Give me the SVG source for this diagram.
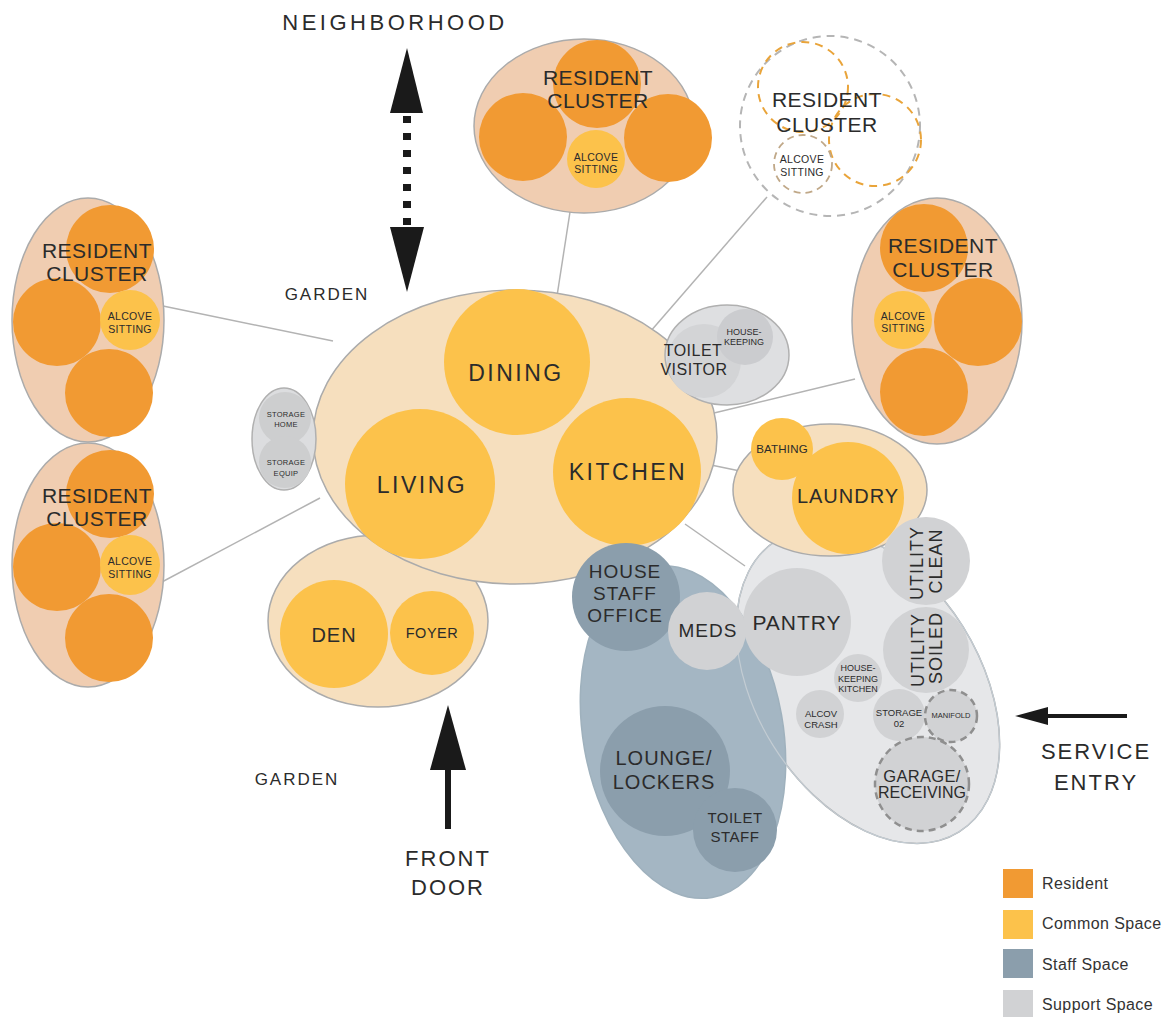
<svg xmlns="http://www.w3.org/2000/svg" width="1176" height="1017" viewBox="0 0 1176 1017">
<style>
text{font-family:"Liberation Sans",Arial,Helvetica,sans-serif;fill:#2b2b2b;text-anchor:middle}
.grp{stroke:#ababab;stroke-width:1.5}
.clus{fill:#f0cdb1}
.common-g{fill:#f6dfbe}
.res{fill:#f19a33}
.com{fill:#fcc24b}
.sup-g{fill:#e6e7e9}
.sup{fill:#d1d2d4}
.staff-g{fill:#a4b6c3}
.staff{fill:#8b9eac}
.conn{stroke:#b3b3b3;stroke-width:1.5;fill:none}
.dashg{fill:none;stroke:#b5b5b5;stroke-width:2;stroke-dasharray:8 6}
.dasho{fill:none;stroke:#e9a43a;stroke-width:2;stroke-dasharray:8 6}
.dashs{stroke:#8f8f8f;stroke-width:2.5;stroke-dasharray:7 5}
.big{font-size:23px;letter-spacing:2.5px}
.rc{font-size:21px;letter-spacing:0.5px}
.alc{font-size:10.5px;letter-spacing:0.3px}
.lbl{font-size:22px;letter-spacing:2px}
.leg{font-size:16px;text-anchor:start;letter-spacing:0.4px;fill:#333}
</style>

<g id="connectors">
<line class="conn" x1="570" y1="212" x2="557" y2="296"/>
<line class="conn" x1="767" y1="197" x2="650" y2="332"/>
<line class="conn" x1="163" y1="306" x2="333" y2="341"/>
<line class="conn" x1="160" y1="583" x2="320" y2="498"/>
<line class="conn" x1="855" y1="379" x2="714" y2="413"/>
<line class="conn" x1="711" y1="465" x2="740" y2="471"/>
<line class="conn" x1="685" y1="524" x2="745" y2="566"/>
</g>

<g id="arrows">
<polygon points="407,48 423,113 390,113" fill="#1a1a1a"/>
<line x1="407" y1="116" x2="407" y2="227" stroke="#1a1a1a" stroke-width="8" stroke-dasharray="7 10"/>
<polygon points="390,227 424,227 407,292" fill="#1a1a1a"/>
<polygon points="448,705 466,770 430,770" fill="#1a1a1a"/>
<rect x="445" y="769" width="6" height="60" fill="#1a1a1a"/>
<polygon points="1015,716 1048,707 1048,725" fill="#1a1a1a"/>
<rect x="1046" y="714" width="81" height="4" fill="#1a1a1a"/>
</g>

<g id="cluster-left-1">
<ellipse class="clus grp" cx="88" cy="320" rx="76" ry="122"/>
<circle class="res" cx="110" cy="249" r="44"/>
<circle class="res" cx="57" cy="322" r="44"/>
<circle class="res" cx="109" cy="393" r="44"/>
<circle class="com" cx="130" cy="320" r="30"/>
<text class="rc" x="97" y="258">RESIDENT</text>
<text class="rc" x="97" y="281">CLUSTER</text>
<text class="alc" x="130" y="320">ALCOVE</text>
<text class="alc" x="130" y="333">SITTING</text>
</g>

<g id="cluster-left-2">
<ellipse class="clus grp" cx="88" cy="565" rx="76" ry="122"/>
<circle class="res" cx="110" cy="494" r="44"/>
<circle class="res" cx="57" cy="567" r="44"/>
<circle class="res" cx="109" cy="638" r="44"/>
<circle class="com" cx="130" cy="565" r="30"/>
<text class="rc" x="97" y="503">RESIDENT</text>
<text class="rc" x="97" y="526">CLUSTER</text>
<text class="alc" x="130" y="565">ALCOVE</text>
<text class="alc" x="130" y="578">SITTING</text>
</g>

<g id="cluster-top">
<ellipse class="clus grp" cx="584" cy="126" rx="110" ry="87"/>
<circle class="res" cx="597" cy="84" r="44"/>
<circle class="res" cx="523" cy="137" r="44"/>
<circle class="res" cx="668" cy="138" r="44"/>
<circle class="com" cx="596" cy="159" r="29"/>
<text class="rc" x="598" y="85">RESIDENT</text>
<text class="rc" x="598" y="108">CLUSTER</text>
<text class="alc" x="596" y="161">ALCOVE</text>
<text class="alc" x="596" y="173">SITTING</text>
</g>

<g id="cluster-future">
<circle class="dashg" cx="830" cy="126" r="90"/>
<circle class="dasho" cx="803" cy="87" r="45"/>
<circle class="dasho" cx="875" cy="140" r="46"/>
<circle cx="803" cy="164" r="29" fill="none" stroke="#c0a888" stroke-width="1.8" stroke-dasharray="7 5"/>
<text class="rc" x="827" y="107">RESIDENT</text>
<text class="rc" x="827" y="132">CLUSTER</text>
<text class="alc" x="802" y="163">ALCOVE</text>
<text class="alc" x="802" y="176">SITTING</text>
</g>

<g id="cluster-right">
<ellipse class="clus grp" cx="937" cy="321" rx="85" ry="123"/>
<circle class="res" cx="924" cy="248" r="44"/>
<circle class="res" cx="978" cy="322" r="44"/>
<circle class="res" cx="924" cy="392" r="44"/>
<circle class="com" cx="903" cy="320" r="29"/>
<text class="rc" x="943" y="253">RESIDENT</text>
<text class="rc" x="943" y="277">CLUSTER</text>
<text class="alc" x="903" y="320">ALCOVE</text>
<text class="alc" x="903" y="332">SITTING</text>
</g>

<g id="support-area">
<ellipse class="sup-g grp" cx="868" cy="686" rx="172" ry="112" transform="rotate(58 868 686)"/>
</g>

<g id="staff-area">
<ellipse class="staff-g" cx="683" cy="732" rx="100" ry="168" transform="rotate(-10 683 732)" stroke="#9fb1bd" stroke-width="1.5"/>
<ellipse cx="868" cy="686" rx="172" ry="112" transform="rotate(58 868 686)" fill="none" stroke="#c3ccd3" stroke-width="1.2"/>
</g>

<g id="den-foyer">
<ellipse class="common-g grp" cx="378" cy="621" rx="110" ry="86"/>
<circle class="com" cx="334" cy="634" r="54"/>
<circle class="com" cx="432" cy="633" r="42"/>
<text x="334" y="642" style="font-size:20px;letter-spacing:1px">DEN</text>
<text x="432" y="638" style="font-size:14.5px;letter-spacing:0.5px">FOYER</text>
</g>

<g id="common-core">
<ellipse class="common-g grp" cx="515" cy="437" rx="202" ry="147"/>
<circle class="com" cx="517" cy="362" r="73"/>
<circle class="com" cx="420" cy="484" r="75"/>
<circle class="com" cx="627" cy="472" r="74"/>
<text class="big" x="516" y="381">DINING</text>
<text class="big" x="422" y="493">LIVING</text>
<text class="big" x="628" y="480">KITCHEN</text>
</g>

<g id="storage">
<ellipse cx="284" cy="439" rx="32" ry="51" fill="#dcdddf" stroke="#b0b0b0" stroke-width="1.5"/>
<circle cx="285" cy="418" r="26" fill="#cdcecf"/>
<circle cx="285" cy="462" r="26" fill="#cdcecf"/>
<text x="286" y="417" style="font-size:7.5px;letter-spacing:0.3px">STORAGE</text>
<text x="286" y="427" style="font-size:7.5px;letter-spacing:0.3px">HOME</text>
<text x="286" y="465" style="font-size:7.5px;letter-spacing:0.3px">STORAGE</text>
<text x="286" y="476" style="font-size:7.5px;letter-spacing:0.3px">EQUIP</text>
</g>

<g id="toilet-visitor">
<ellipse cx="727" cy="355" rx="62" ry="50" fill="#dedfe1" stroke="#b0b0b0" stroke-width="1.5"/>
<circle cx="704" cy="361" r="37" fill="#d3d4d6"/>
<circle cx="745" cy="337" r="28" fill="#cbcccf"/>
<text x="693" y="356" style="font-size:16px;letter-spacing:0.5px">TOILET</text>
<text x="694" y="375" style="font-size:16px;letter-spacing:0.5px">VISITOR</text>
<text x="744" y="335" style="font-size:9px">HOUSE-</text>
<text x="744" y="345" style="font-size:9px">KEEPING</text>
</g>

<g id="laundry">
<ellipse class="common-g grp" cx="830" cy="490" rx="97" ry="66"/>
<circle class="com" cx="782" cy="449" r="31"/>
<circle class="com" cx="848" cy="498" r="56"/>
<text x="782" y="453" style="font-size:11.5px;letter-spacing:0.2px">BATHING</text>
<text x="848" y="503" style="font-size:20px;letter-spacing:1px">LAUNDRY</text>
</g>

<g id="support-rooms">
<circle class="sup" cx="797" cy="622" r="54"/>
<circle class="sup" cx="926" cy="561" r="44"/>
<circle class="sup" cx="926" cy="650" r="43"/>
<circle class="sup" cx="858" cy="678" r="24"/>
<circle class="sup" cx="820" cy="714" r="24"/>
<circle class="sup" cx="899" cy="715" r="26"/>
<circle class="sup dashs" cx="951" cy="716" r="26"/>
<circle class="sup dashs" cx="922" cy="784" r="47"/>
<text x="797" y="630" style="font-size:21px;letter-spacing:1px">PANTRY</text>
<text transform="translate(923 563) rotate(-90)" style="font-size:18px;letter-spacing:1px">UTILITY</text>
<text transform="translate(942 561) rotate(-90)" style="font-size:18px;letter-spacing:1px">CLEAN</text>
<text transform="translate(924 650) rotate(-90)" style="font-size:18px;letter-spacing:1px">UTILITY</text>
<text transform="translate(942 648) rotate(-90)" style="font-size:18px;letter-spacing:1px">SOILED</text>
<text x="858" y="671" style="font-size:9px">HOUSE-</text>
<text x="858" y="682" style="font-size:9px">KEEPING</text>
<text x="858" y="692" style="font-size:9px">KITCHEN</text>
<text x="821" y="717" style="font-size:9.5px">ALCOV</text>
<text x="821" y="728" style="font-size:9.5px">CRASH</text>
<text x="899" y="716" style="font-size:9.5px">STORAGE</text>
<text x="899" y="727" style="font-size:9.5px">02</text>
<text x="951" y="718" style="font-size:7.5px">MANIFOLD</text>
<text x="922" y="782" style="font-size:16.5px;letter-spacing:0.3px">GARAGE/</text>
<text x="922" y="798" style="font-size:16px">RECEIVING</text>
</g>

<g id="staff-rooms">
<circle class="staff" cx="626" cy="597" r="54"/>
<circle class="sup" cx="707" cy="631" r="39"/>
<circle class="staff" cx="665" cy="771" r="65"/>
<circle class="staff" cx="735" cy="830" r="42"/>
<text x="625" y="578" style="font-size:19px;letter-spacing:1px">HOUSE</text>
<text x="625" y="600" style="font-size:19px;letter-spacing:1px">STAFF</text>
<text x="625" y="622" style="font-size:19px;letter-spacing:1px">OFFICE</text>
<text x="708" y="637" style="font-size:19px;letter-spacing:1px">MEDS</text>
<text x="664" y="765" style="font-size:20px;letter-spacing:1px">LOUNGE/</text>
<text x="664" y="789" style="font-size:20px;letter-spacing:1px">LOCKERS</text>
<text x="735" y="823" style="font-size:15px;letter-spacing:0.5px">TOILET</text>
<text x="735" y="842" style="font-size:15px;letter-spacing:0.5px">STAFF</text>
</g>

<g id="labels">
<text x="395" y="30" style="font-size:22px;letter-spacing:3.5px">NEIGHBORHOOD</text>
<text x="327" y="300" style="font-size:17px;letter-spacing:2px">GARDEN</text>
<text x="297" y="785" style="font-size:17px;letter-spacing:2px">GARDEN</text>
<text class="lbl" x="448" y="866">FRONT</text>
<text class="lbl" x="448" y="895">DOOR</text>
<text class="lbl" x="1096" y="759">SERVICE</text>
<text class="lbl" x="1096" y="790">ENTRY</text>
</g>

<g id="legend">
<rect x="1003" y="869" width="30" height="29" fill="#f19a33"/>
<rect x="1003" y="910" width="30" height="29" fill="#fcc24b"/>
<rect x="1003" y="949" width="30" height="29" fill="#8b9eac"/>
<rect x="1003" y="990" width="30" height="29" fill="#d1d2d4"/>
<text class="leg" x="1042" y="889">Resident</text>
<text class="leg" x="1042" y="929">Common Space</text>
<text class="leg" x="1042" y="970">Staff Space</text>
<text class="leg" x="1042" y="1010">Support Space</text>
</g>
</svg>
